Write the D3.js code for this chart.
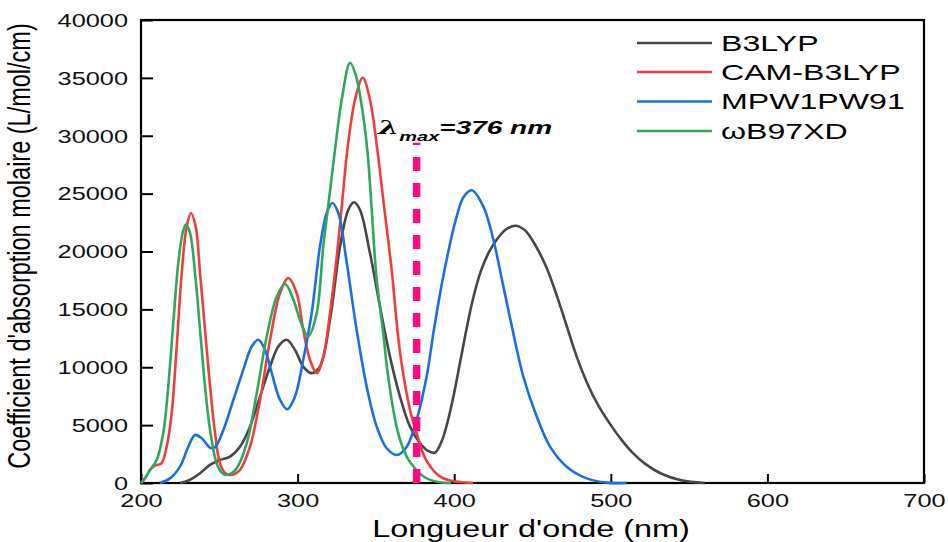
<!DOCTYPE html>
<html>
  <head>
    <title>UV-Vis</title>
  <script src="https://d3js.org/d3.v7.min.js"></script>
  <style>
    body { margin: 0; background: #fff; }
    text { font-family: Arial, "Liberation Sans", sans-serif; }
  </style>
 </head>
  <body>

<script type="text/javascript">

var seriesNames = ["B3LYP", "CAM-B3LYP", "MPW1PW91", "\u03c9B97XD"];

var b3lyp = [[225,0],[231,260],[237.7,840],[244,1560],[250.4,1990],[256.8,2280],[263.2,3140],[269.6,4870],
  [276,7460],[282.4,10060],[287.7,11790],[293,12370],[298.3,11500],[303.6,10060],[309,9490],[314.3,10060],
  [320.7,14100],[327.1,20440],[332.4,23610],[336,24250],[339.8,23610],[346.2,19870],[352.6,15250],[359,10920],
  [365.4,7460],[371.8,4870],[378.2,3430],[383,2800],[387.7,2620],[392,3600],[396,5400],[400,7800],[404,10600],
  [408,13400],[412,15900],[417,18300],[422,19900],[427,21000],[433,21900],[439,22230],[445,21850],[452,20500],
  [459,18600],[466,16000],[472,13500],[478,11000],[485,8600],[492,6700],[500,5000],[507,3700],[514,2600],
  [522,1650],[532,820],[545,230],[560,0]];

var camb3lyp = [[200,0],[203,500],[205.7,1125],[209,1500],[213,1700],[216.4,3140],[219.6,6030],[222.8,11790],
  [226,18140],[229.2,22170],[231.9,23330],[234.9,22170],[237.7,18140],[240.9,13230],[244.1,8330],[247.3,4300],
  [250.4,1700],[253.5,900],[256.8,690],[260,800],[263.2,1125],[269.6,3140],[276,7180],[282.4,12370],[288.8,16410],
  [294.1,17710],[299.4,16410],[303.6,13230],[307.9,10640],[312.2,9490],[316.4,10920],[320.7,14680],[325,19580],
  [328.2,23900],[331.8,28800],[336.7,33130],[341.6,35010],[346.2,33130],[350.9,28800],[354.7,24480],
  [360,18500],[365.4,11300],[371.8,6300],[376,4300],[382,2000],[391,550],[398,200],[404,80],[412,0]];

var mpw1pw91 = [[212,0],[218.5,400],[224.9,1410],[230.2,3140],[234.5,4150],[238.8,3860],[244.1,3050],[247.3,3100],
  [252.6,4580],[259,7180],[265.3,9770],[270.7,11790],[274.9,12370],[279.2,11500],[283.5,9490],[288.8,7180],
  [293.4,6370],[298.3,7460],[303.6,10640],[309,14680],[314.3,20440],[318.6,23330],[322.2,24190],[326,23330],
  [331.4,19000],[337.7,13230],[344.1,8330],[350.5,4870],[356.9,3000],[363.3,2420],[369.7,3140],[376,5450],
  [382.4,9200],[387,13200],[393,17850],[401.6,23040],[406,24700],[411.2,25290],[418.6,23900],[425,21020],
  [431.4,16980],[437.7,12950],[444.1,9200],[452.7,5740],[461.2,3140],[471.8,1410],[484.6,400],[497.4,30],[510,0]];

var wb97xd = [[200,0],[203,500],[205.7,1125],[210,1990],[214.2,4300],[217.4,8330],[220.6,13810],[223.8,19000],
  [226.6,21600],[228.7,22320],[231.3,21600],[234.5,18140],[237.7,13230],[240.9,8330],[244.1,4580],[248.3,1700],
  [251.5,900],[254.7,690],[258,850],[261.1,1270],[267.5,3430],[273.9,7760],[280.3,12660],[286.7,16120],[292,17190],
  [297.3,15830],[301.5,14100],[306.8,12660],[312.2,14680],[316.4,20440],[320.5,25000],[323.9,28800],[328.2,33130],
  [333.5,36300],[337,35300],[340.3,33130],[344.5,28800],[346.9,24480],[350.5,17560],[354.7,12950],[357,10060],
  [360,7200],[363,5000],[366,3500],[370,2200],[373,1600],[376,1100],[380,600],[385,250],[392,50],[398,0]];

var seriesData = [b3lyp, camb3lyp, mpw1pw91, wb97xd];
var seriesColors = ["#474747", "#f23d3d", "#1c6fe2", "#2fa85c"];

var xTicks = [200, 300, 400, 500, 600, 700];
var yTicks = [0, 5000, 10000, 15000, 20000, 25000, 30000, 35000, 40000];

var lambdaMax = 376;
var lambdaTop = 29400;

var width = 948, height = 542;
var margin = {top: 20, right: 24, bottom: 59, left: 141};
var sx = 1.37; // picture is stretched sideways

var svg = d3.select("body")
      .append("svg")
      .attr("width", width)
      .attr("height", height);

svg.append("rect").attr("width", width).attr("height", height).attr("fill", "#fff");

var x = d3.scaleLinear()
    .domain([200, 700])
    .range([margin.left, width - margin.right]);

var y = d3.scaleLinear()
    .domain([0, 40000])
    .range([height - margin.bottom, margin.top]);

// axes, ticks pointing in
var gx = svg.append("g")
    .attr("transform", "translate(0," + y(0) + ")")
    .call(d3.axisBottom(x).tickValues(xTicks).tickSizeInner(-9).tickSizeOuter(0));
gx.select(".domain").remove();
gx.selectAll("line").attr("stroke", "#000").attr("stroke-width", 2);
gx.selectAll("text")
    .attr("y", 24.5).attr("dy", 0)
    .attr("transform", "scale(" + sx + ",1)")
    .attr("fill", "#111")
    .style("font-size", "18.5px");

var gy = svg.append("g")
    .attr("transform", "translate(" + x(200) + ",0)")
    .call(d3.axisLeft(y).tickValues(yTicks).tickFormat(d3.format("d")).tickSizeInner(-12).tickSizeOuter(0));
gy.select(".domain").remove();
gy.selectAll("line").attr("stroke", "#000").attr("stroke-width", 2);
gy.selectAll("text")
    .attr("x", -13 / sx).attr("dy", "0.34em")
    .attr("transform", "scale(" + sx + ",1)")
    .attr("fill", "#111")
    .style("font-size", "18.5px");

// frame
svg.append("rect")
    .attr("x", x(200)).attr("y", y(40000))
    .attr("width", x(700) - x(200)).attr("height", y(0) - y(40000))
    .attr("fill", "none").attr("stroke", "#000").attr("stroke-width", 2.2);

// spectra
var line = d3.line()
    .x(function(d) { return x(d[0]); })
    .y(function(d) { return Math.min(y(d[1]), y(0)); })
    .curve(d3.curveCatmullRom.alpha(0.5));

svg.append("g").selectAll("path")
    .data(seriesData)
    .enter().append("path")
    .attr("d", line)
    .attr("fill", "none")
    .attr("stroke", function(d, i) { return seriesColors[i]; })
    .attr("stroke-width", 2.6)
    .attr("stroke-linejoin", "round");

// lambda max marker
svg.append("line")
    .attr("x1", x(lambdaMax)).attr("x2", x(lambdaMax))
    .attr("y1", y(0)).attr("y2", y(lambdaTop))
    .attr("stroke", "#ff0a80")
    .attr("stroke-width", 7.5)
    .attr("stroke-dasharray", "14,12");

var lab = svg.append("text")
    .attr("transform", "translate(378,134) scale(1.6,1)")
    .style("font-weight", "bold").style("font-style", "italic")
    .attr("fill", "#000");
lab.append("tspan").style("font-size", "19px").style("font-family", "'DejaVu Serif', serif").text("\u03bb");
lab.append("tspan").attr("dy", 7).style("font-size", "12.5px").text("max");
lab.append("tspan").attr("dy", -7).style("font-size", "17.5px").text("=" + lambdaMax + " nm");

// legend
var legend = svg.append("g").selectAll("g")
    .data(seriesNames)
    .enter().append("g")
    .attr("transform", function(d, i) { return "translate(637," + [43, 72, 101.5, 131][i] + ")"; });

legend.append("line")
    .attr("x1", 0).attr("x2", 75)
    .attr("stroke", function(d, i) { return seriesColors[i]; })
    .attr("stroke-width", 2.6);

legend.append("text")
    .attr("transform", "translate(84,0) scale(1.46,1)")
    .attr("dy", "0.36em")
    .style("font-size", "22px")
    .attr("fill", "#000")
    .text(function(d) { return d; });

// axis titles
svg.append("text")
    .attr("transform", "translate(531,536.5) scale(1.35,1)")
    .attr("text-anchor", "middle")
    .style("font-size", "24px")
    .attr("fill", "#000")
    .text("Longueur d'onde (nm)");

svg.append("text")
    .attr("transform", "translate(30,246) scale(1.3,1) rotate(-90)")
    .attr("text-anchor", "middle")
    .style("font-size", "23.5px")
    .attr("fill", "#000")
    .text("Coefficient d'absorption molaire (L/mol/cm)");

</script>

</body>
</html>
